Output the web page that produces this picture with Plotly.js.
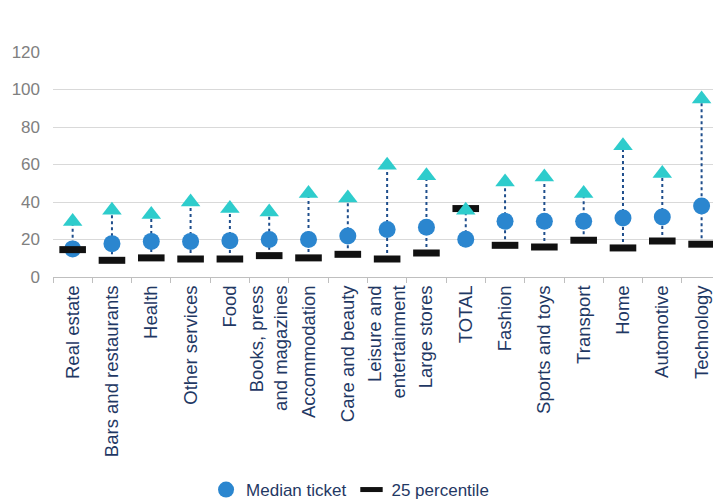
<!DOCTYPE html>
<html>
<head>
<meta charset="utf-8">
<script src="https://cdn.plot.ly/plotly-3.0.1.min.js"></script>
<style>
  html, body { margin: 0; padding: 0; background: #ffffff; }
  #chart { width: 713px; height: 500px; }
</style>
</head>
<body>
<div id="chart"></div>
<script>
// Sectors, ordered by median ticket (TOTAL shown in place)
const categories = [
  "Real estate", "Bars and restaurants", "Health", "Other services", "Food",
  "Books, press<br>and magazines", "Accommodation", "Care and beauty",
  "Leisure and<br>entertainment", "Large stores", "TOTAL", "Fashion",
  "Sports and toys", "Transport", "Home", "Automotive", "Technology"
];

// Median ticket per sector
const medianTicket = [15, 17.8, 19, 19, 19.4, 20, 20, 21.9, 25.3, 26.5, 20.1, 29.7, 29.7, 29.7, 31.5, 32, 37.9];

// 25th percentile ticket per sector
const p25 = [14.6, 8.9, 10.2, 9.6, 9.6, 11.4, 10.2, 12.1, 9.6, 12.8, 36.5, 16.9, 16, 19.6, 15.5, 19.2, 17.5];

// Upper marker (triangle) per sector
const upperTicket = [29.6, 35.6, 33.3, 40, 36.5, 34.7, 44.5, 42.2, 59.6, 54, 35.6, 50.7, 53.4, 44.5, 70, 55.2, 94.9];

// High-low connector segments, from the lowest to the highest value of each sector
const segX = [], segY = [];
categories.forEach((c, i) => {
  const vals = [medianTicket[i], p25[i], upperTicket[i]];
  segX.push(c, c, null);
  segY.push(Math.min(...vals), Math.max(...vals), null);
});

const traces = [
  {
    x: segX, y: segY, type: "scatter", mode: "lines",
    line: { color: "#1F4E8C", width: 2, dash: "dot" },
    showlegend: false, hoverinfo: "skip"
  },
  {
    name: "Median ticket", x: categories, y: medianTicket,
    type: "scatter", mode: "markers",
    marker: { symbol: "circle", size: 17, color: "#2B86CF", line: { width: 0 } }
  },
  {
    name: "25 percentile", x: categories, y: p25,
    type: "scatter", mode: "markers",
    marker: { symbol: "line-ew", size: 19, color: "#111111", line: { width: 7, color: "#111111" } }
  },
  {
    name: "Upper", x: categories, y: upperTicket,
    type: "scatter", mode: "markers", showlegend: false,
    marker: { symbol: "triangle-up", size: 17, color: "#2ECCCC", line: { width: 0 } }
  }
];

const layout = {
  width: 713, height: 500,
  margin: { l: 53, r: 0, t: 52, b: 223, autoexpand: false },
  paper_bgcolor: "#ffffff", plot_bgcolor: "#ffffff",
  font: { family: "Liberation Sans, Arial, sans-serif" },
  showlegend: true,
  legend: {
    orientation: "h",
    xref: "container", x: 0.289, xanchor: "left",
    yref: "container", y: 0.02, yanchor: "middle",
    font: { size: 17, color: "#1F3864" }, itemwidth: 30, tracegroupgap: 0
  },
  xaxis: {
    type: "category",
    automargin: false,
    range: [-0.5, 16.29],
    tickangle: -90,
    tickson: "boundaries",
    ticks: "outside", ticklen: 5, tickcolor: "#BFBFBF", tickwidth: 1,
    showline: true, linecolor: "#BFBFBF", linewidth: 1,
    showgrid: false,
    tickfont: { size: 18.5, color: "#1F3864" }
  },
  yaxis: {
    automargin: false,
    range: [0, 120],
    tickvals: [0, 20, 40, 60, 80, 100, 120],
    showgrid: true, gridcolor: "#D9D9D9", gridwidth: 1,
    zeroline: false, showline: false, ticks: "",
    ticklabelstandoff: 12,
    tickfont: { size: 17, color: "#808080" }
  }
};

Plotly.newPlot("chart", traces, layout, { displayModeBar: false, staticPlot: true });
</script>
</body>
</html>
